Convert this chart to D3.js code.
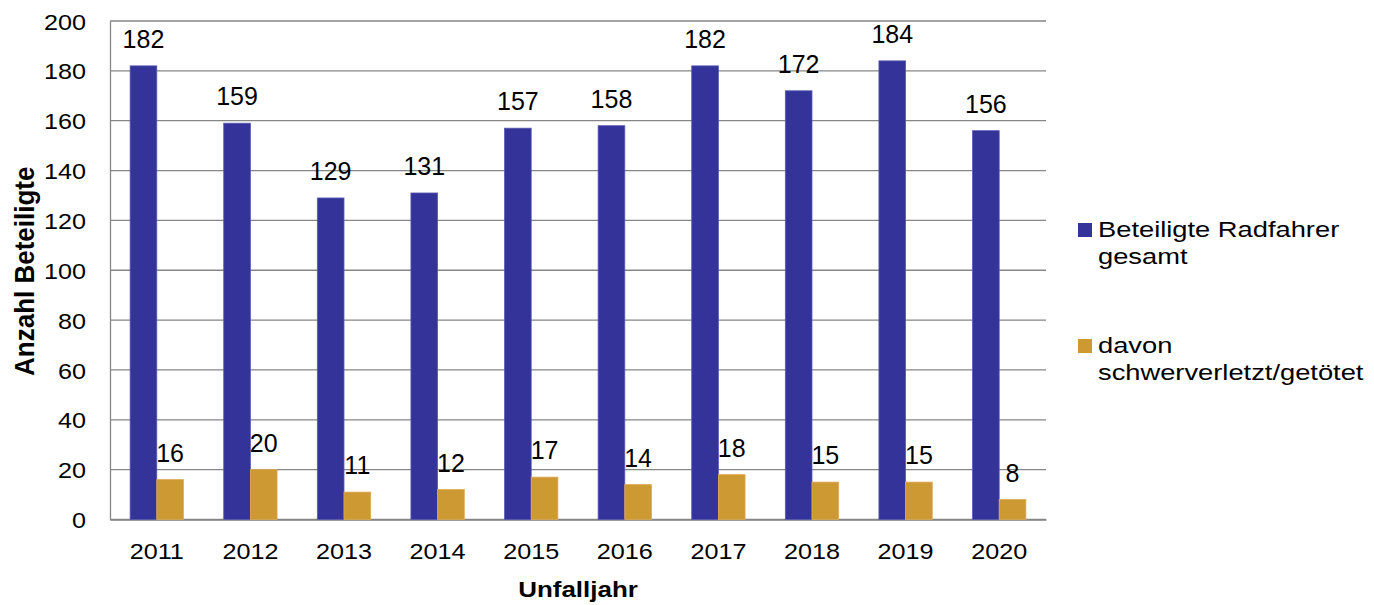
<!DOCTYPE html>
<html>
<head>
<meta charset="utf-8">
<script src="https://cdn.jsdelivr.net/npm/d3@7/dist/d3.min.js"></script>
<style>
  html, body { margin: 0; padding: 0; background: #fff; }
  svg { display: block; font-family: "Liberation Sans", Arial, sans-serif; }
</style>
</head>
<body>
<svg id="chart" width="1374" height="605"></svg>
<script>
// Unfallbeteiligte Radfahrer je Jahr
const years = ["2011", "2012", "2013", "2014", "2015", "2016", "2017", "2018", "2019", "2020"];
const gesamt = [182, 159, 129, 131, 157, 158, 182, 172, 184, 156];
const schwer = [16, 20, 11, 12, 17, 14, 18, 15, 15, 8];
const seriesNames = ["Beteiligte Radfahrer gesamt", "davon schwerverletzt/getötet"];
const seriesColors = ["#333399", "#CC9933"];
const yTicks = [0, 20, 40, 60, 80, 100, 120, 140, 160, 180, 200];

const svg = d3.select("#chart");
const m = { left: 110, right: 1046, top: 21, bottom: 519.5 };

const x = d3.scaleBand().domain(years).range([m.left, m.right]).paddingInner(0).paddingOuter(0);
const groupW = x.bandwidth() * 0.57;
const inner = d3.scaleBand().domain([0, 1]).range([0, groupW]);
const groupOffset = (x.bandwidth() - groupW) / 2;
const y = d3.scaleLinear().domain([0, 200]).range([m.bottom, m.top]);

// Horizontal gridlines
svg.append("g")
  .selectAll("line")
  .data(yTicks)
  .join("line")
  .attr("x1", m.left).attr("x2", m.right)
  .attr("y1", d => y(d)).attr("y2", d => y(d))
  .attr("stroke", "#868686").attr("stroke-width", 1.3);

// Y axis
const tickSx = 1.12;
const yAxis = svg.append("g")
  .attr("transform", `translate(${m.left},0)`)
  .call(d3.axisLeft(y).tickValues(yTicks).tickSize(0));
yAxis.select(".domain").attr("stroke", "#868686").attr("stroke-width", 1.3);
yAxis.selectAll("text")
  .attr("font-size", 22.5).attr("fill", "#000")
  .attr("font-family", "Liberation Sans, Arial, sans-serif")
  .attr("x", -24 / tickSx).attr("dy", "0.36em")
  .attr("transform", `scale(${tickSx},1)`);

// X axis
const xAxis = svg.append("g")
  .attr("transform", `translate(0,${m.bottom})`)
  .call(d3.axisBottom(x).tickSize(0));
xAxis.select(".domain").attr("stroke", "#868686").attr("stroke-width", 1.3);
xAxis.selectAll("text")
  .attr("font-size", 22.5).attr("fill", "#000")
  .attr("font-family", "Liberation Sans, Arial, sans-serif")
  .attr("y", 39.8).attr("dy", 0)
  .attr("transform", `scale(${tickSx},1)`);

// Bars and value labels
const series = [gesamt, schwer];
series.forEach((vals, si) => {
  const g = svg.append("g");
  g.selectAll("rect")
    .data(vals)
    .join("rect")
    .attr("x", (d, i) => x(years[i]) + groupOffset + inner(si))
    .attr("width", inner.bandwidth())
    .attr("y", d => y(d))
    .attr("height", d => y(0) - y(d))
    .attr("fill", seriesColors[si])
    .attr("stroke", si === 0 ? "#5a5ab4" : "#ddaa55")
    .attr("stroke-width", 0.8);
  g.selectAll("text")
    .data(vals)
    .join("text")
    .attr("x", (d, i) => x(years[i]) + groupOffset + inner(si) + inner.bandwidth() / 2)
    .attr("y", d => y(d) - 18)
    .attr("text-anchor", "middle")
    .attr("font-size", 25)
    .attr("fill", "#000")
    .text(d => d);
});

// Axis titles
svg.append("text")
  .attr("transform", `translate(${(m.left + m.right) / 2},597) scale(1.18,1)`)
  .attr("text-anchor", "middle").attr("font-size", 22).attr("font-weight", "bold")
  .text("Unfalljahr");
svg.append("text")
  .attr("transform", `translate(34,${(m.top + m.bottom) / 2 + 1}) rotate(-90) scale(1,1.09)`)
  .attr("text-anchor", "middle").attr("font-size", 26).attr("font-weight", "bold")
  .text("Anzahl Beteiligte");

// Legend
const legendSx = 1.27;
const legendLines = [["Beteiligte Radfahrer", "gesamt"], ["davon", "schwerverletzt/getötet"]];
const legendTop = [223, 339];
legendLines.forEach((lines, i) => {
  svg.append("rect")
    .attr("x", 1078).attr("y", legendTop[i]).attr("width", 14).attr("height", 14)
    .attr("fill", seriesColors[i]);
  const t = svg.append("text")
    .attr("transform", `translate(1098,${legendTop[i] + 14}) scale(${legendSx},1)`)
    .attr("font-size", 21.5).attr("fill", "#000");
  lines.forEach((ln, j) => {
    t.append("tspan").attr("x", 0).attr("dy", j === 0 ? 0 : 27.5).text(ln);
  });
});
</script>
</body>
</html>
